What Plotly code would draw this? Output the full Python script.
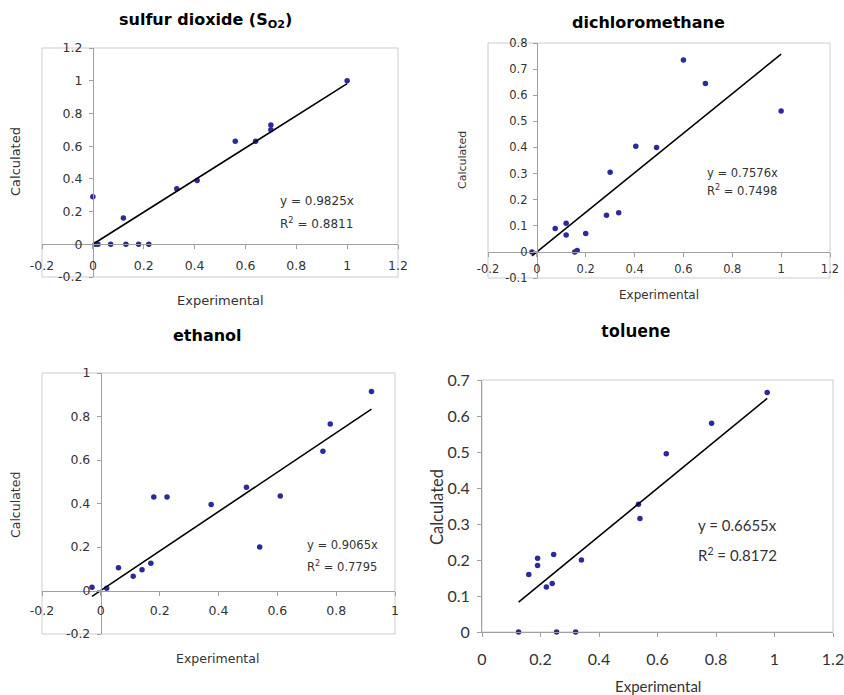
import numpy as np
import plotly.graph_objects as go

W, H = 844, 695

# ---- data ----
so2_x = [0.0, 0.01, 0.02, 0.07, 0.12, 0.13, 0.18, 0.22, 0.33, 0.41, 0.56, 0.64, 0.70, 0.70, 1.0]
so2_y = [0.29, 0.0, 0.0, 0.0, 0.16, 0.0, 0.0, 0.0, 0.34, 0.39, 0.63, 0.63, 0.73, 0.70, 1.0]
so2_slope, so2_r2 = 0.9825, 0.8811
so2_xticks = [-0.2, 0, 0.2, 0.4, 0.6, 0.8, 1, 1.2]
so2_yticks = [-0.2, 0, 0.2, 0.4, 0.6, 0.8, 1, 1.2]

dcm_x = [-0.02, 0.075, 0.12, 0.12, 0.155, 0.165, 0.2, 0.285, 0.30, 0.335, 0.405, 0.49, 0.60, 0.69, 1.0]
dcm_y = [0.0, 0.09, 0.11, 0.065, 0.0, 0.005, 0.07, 0.14, 0.305, 0.15, 0.405, 0.40, 0.735, 0.645, 0.54]
dcm_slope, dcm_r2 = 0.7576, 0.7498
dcm_xticks = [-0.2, 0, 0.2, 0.4, 0.6, 0.8, 1, 1.2]
dcm_yticks = [-0.1, 0, 0.1, 0.2, 0.3, 0.4, 0.5, 0.6, 0.7, 0.8]

eth_x = [-0.03, 0.02, 0.06, 0.11, 0.14, 0.17, 0.18, 0.225, 0.375, 0.495, 0.54, 0.61, 0.755, 0.78, 0.92]
eth_y = [0.015, 0.01, 0.105, 0.065, 0.095, 0.125, 0.43, 0.43, 0.395, 0.475, 0.20, 0.435, 0.64, 0.765, 0.915]
eth_slope, eth_r2 = 0.9065, 0.7795
eth_xticks = [-0.2, 0, 0.2, 0.4, 0.6, 0.8, 1]
eth_yticks = [-0.2, 0, 0.2, 0.4, 0.6, 0.8, 1]

tol_x = [0.125, 0.16, 0.19, 0.19, 0.22, 0.24, 0.245, 0.255, 0.32, 0.34, 0.535, 0.54, 0.63, 0.785, 0.975]
tol_y = [0.0, 0.16, 0.205, 0.185, 0.125, 0.135, 0.215, 0.0, 0.0, 0.20, 0.355, 0.315, 0.495, 0.58, 0.665]
tol_slope, tol_r2 = 0.6655, 0.8172
tol_xticks = [0, 0.2, 0.4, 0.6, 0.8, 1, 1.2]
tol_yticks = [0, 0.1, 0.2, 0.3, 0.4, 0.5, 0.6, 0.7]

titles = ["sulfur dioxide (S<sub>O2</sub>)", "dichloromethane", "ethanol", "toluene"]


def fx(px):
    return px / W


def fy(py):
    return 1 - py / H


panels = [
    dict(x=so2_x, y=so2_y, slope=so2_slope, r2=so2_r2, box=(42, 398, 48, 277),
         xt=so2_xticks, yt=so2_yticks, font="DejaVu Sans", tick=12.5, xso=6, yso=4,
         title=(205, 20, 16, "DejaVu Sans"), ylab=(15, 162, 13), xlab=(220, 300, 13),
         eq=(0.73, 0.265, 0.133), eqs=12),
    dict(x=dcm_x, y=dcm_y, slope=dcm_slope, r2=dcm_r2, box=(488, 830, 43, 278),
         xt=dcm_xticks, yt=dcm_yticks, font="DejaVu Sans", tick=11.5, xso=2, yso=3,
         title=(648, 23, 16, "DejaVu Sans"), ylab=(462, 160, 11), xlab=(659, 295, 12),
         eq=(0.687, 0.304, 0.236), eqs=11.5),
    dict(x=eth_x, y=eth_y, slope=eth_slope, r2=eth_r2, box=(42, 395, 373, 634),
         xt=eth_xticks, yt=eth_yticks, font="DejaVu Sans", tick=12.5, xso=4, yso=4,
         title=(207, 335, 16, "DejaVu Sans"), ylab=(15, 505, 12.5), xlab=(217, 658, 12.5),
         eq=(0.694, 0.21, 0.11), eqs=11.5),
    dict(x=tol_x, y=tol_y, slope=tol_slope, r2=tol_r2, box=(482, 833, 380, 632),
         xt=tol_xticks, yt=tol_yticks, font="Lato", tick=16, xso=9, yso=4,
         title=(635, 330, 18, "Open Sans"), ylab=(437, 507, 16.5), xlab=(658, 686, 15),
         eq=(0.733, 0.296, 0.214), eqs=15),
]

fig = go.Figure()
layout = dict(width=W, height=H, margin=dict(l=0, r=0, t=0, b=0, pad=0, autoexpand=False),
              paper_bgcolor="white", plot_bgcolor="white", showlegend=False)
shapes, annotations = [], []

for i, p in enumerate(panels, start=1):
    sfx = "" if i == 1 else str(i)
    l, r, t, b = p["box"]
    xd, yd = [fx(l), fx(r)], [fy(b), fy(t)]
    xt, yt = p["xt"], p["yt"]
    xr, yr = [xt[0], xt[-1]], [yt[0], yt[-1]]
    tf = dict(family=p["font"], size=p["tick"], color="#333333")
    common = dict(showgrid=False, zeroline=False, showline=True, linecolor="#a0a0a0", linewidth=1,
                  ticks="outside", ticklen=4, tickcolor="#a0a0a0", tickfont=tf, fixedrange=True,
                  automargin=False, ticklabeloverflow="allow")
    xa = dict(domain=xd, range=xr, tickmode="array", tickvals=xt, ticktext=[f"{v:g}" for v in xt],
              ticklabelstandoff=p["xso"], **common)
    ya = dict(domain=yd, range=yr, tickmode="array", tickvals=yt, ticktext=[f"{v:g}" for v in yt],
              ticklabelstandoff=p["yso"], **common)
    if xr[0] < 0:  # axes cross at zero (Excel style)
        xa["anchor"] = "free"
        xa["position"] = yd[0] + (0 - yr[0]) / (yr[1] - yr[0]) * (yd[1] - yd[0])
        ya["anchor"] = "free"
        ya["position"] = xd[0] + (0 - xr[0]) / (xr[1] - xr[0]) * (xd[1] - xd[0])
    else:
        xa["anchor"] = "y" + sfx
        ya["anchor"] = "x" + sfx
    layout["xaxis" + sfx] = xa
    layout["yaxis" + sfx] = ya

    shapes.append(dict(type="rect", xref="paper", yref="paper", x0=xd[0], x1=xd[1], y0=yd[0], y1=yd[1],
                       line=dict(color="#cccccc", width=1), layer="below"))

    fig.add_trace(go.Scatter(x=p["x"], y=p["y"], mode="markers", xaxis="x" + sfx, yaxis="y" + sfx,
                             marker=dict(symbol="circle", size=5.5, color="#2a2a9c"), cliponaxis=False))
    lx = np.array([min(p["x"]), max(p["x"])])
    fig.add_trace(go.Scatter(x=lx, y=p["slope"] * lx, mode="lines", xaxis="x" + sfx, yaxis="y" + sfx,
                             line=dict(color="black", width=1.6)))

    ex, ey1, ey2 = p["eq"]
    ef = dict(family=p["font"], size=p["eqs"], color="#333333")
    annotations.append(dict(x=ex, y=ey1, xref="x" + sfx, yref="y" + sfx, text=f"y = {p['slope']:.4f}x",
                            showarrow=False, xanchor="left", yanchor="middle", font=ef))
    annotations.append(dict(x=ex, y=ey2, xref="x" + sfx, yref="y" + sfx, text=f"R<sup>2</sup> = {p['r2']:.4f}",
                            showarrow=False, xanchor="left", yanchor="middle", font=ef))

    tx, ty, ts, tfam = p["title"]
    annotations.append(dict(x=fx(tx), y=fy(ty), xref="paper", yref="paper", text="<b>" + titles[i - 1] + "</b>",
                            showarrow=False, xanchor="center", yanchor="middle",
                            font=dict(family=tfam, size=ts, color="black")))
    yx, yy, ys = p["ylab"]
    annotations.append(dict(x=fx(yx), y=fy(yy), xref="paper", yref="paper",
                            text="Calculated", textangle=-90, showarrow=False,
                            xanchor="center", yanchor="middle",
                            font=dict(family=p["font"], size=ys, color="#333333")))
    xx, xy, xs = p["xlab"]
    annotations.append(dict(x=fx(xx), y=fy(xy), xref="paper", yref="paper",
                            text="Experimental", showarrow=False,
                            xanchor="center", yanchor="middle",
                            font=dict(family=p["font"], size=xs, color="#333333")))

layout["shapes"] = shapes
layout["annotations"] = annotations
fig.update_layout(**layout)
# remove the page's default 8px body margin so the 844x695 figure fills the window exactly
fig.write_html("out.html", config={"displayModeBar": False},
               post_script="document.body.style.margin='0';document.body.style.overflow='hidden';")
